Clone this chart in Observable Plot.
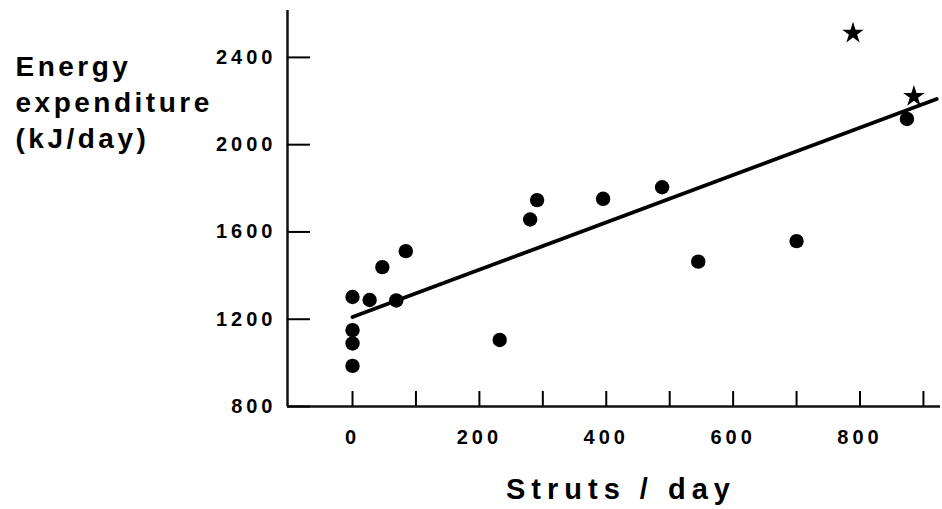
<!DOCTYPE html>
<html>
<head>
<meta charset="utf-8">
<script src="https://cdn.jsdelivr.net/npm/d3@7"></script>
<script src="https://cdn.jsdelivr.net/npm/@observablehq/plot@0.6"></script>
<style>
  html, body { margin: 0; padding: 0; background: #fff; }
  svg { font-family: "Liberation Sans", Arial, sans-serif; }
  g[aria-label="y-axis tick label"] text,
  g[aria-label="x-axis tick label"] text { letter-spacing: 4px; }
  g[aria-description="y-title"] text { letter-spacing: 3.5px; }
  g[aria-description="x-title"] text { letter-spacing: 6px; }
</style>
</head>
<body>
<div id="chart"></div>
<script>
// Circles (Struts/day vs energy expenditure kJ/day)
const circleX = [0, 0, 0, 0, 27, 47, 69, 84, 232, 280, 291, 395, 488, 545, 700, 874];
const circleY = [1302, 1150, 1089, 986, 1288, 1439, 1286, 1512, 1105, 1657, 1746, 1752, 1805, 1464, 1558, 2118];
// Stars
const starX = [789, 885];
const starY = [2511, 2221];
// Regression line endpoints
const lineX = [0, 921];
const lineY = [1210, 2209];
// Ticks
const xTicks = [0, 100, 200, 300, 400, 500, 600, 700, 800, 900];
const xLabels = [0, 200, 400, 600, 800];
const yTicks = [800, 1200, 1600, 2000, 2400];
const yTitle = "Energy\nexpenditure\n(kJ/day)";
const xTitle = "Struts / day";

const circles = circleX.map((x, i) => ({x, y: circleY[i]}));
const stars = starX.map((x, i) => ({x, y: starY[i]}));
const line = lineX.map((x, i) => ({x, y: lineY[i]}));

const chart = Plot.plot({
  width: 942,
  height: 509,
  marginLeft: 287,
  marginRight: 2,
  marginTop: 10,
  marginBottom: 103,
  x: {domain: [-102.5, 926.9]},
  y: {domain: [800, 2615]},
  style: {background: "#fff", color: "#000"},
  marks: [
    Plot.ruleX([-102.5], {stroke: "#111", strokeWidth: 2.5}),
    Plot.ruleY([800], {stroke: "#111", strokeWidth: 2.5}),
    Plot.axisY({ticks: yTicks, tickSize: -23, tickFormat: () => "", strokeWidth: 2, label: null}),
    Plot.axisY({ticks: yTicks, tickSize: 0, tickPadding: 11, fontSize: 20, fontWeight: "bold", tickFormat: d => String(d), label: null}),
    Plot.axisX({ticks: xTicks, tickSize: -15, tickFormat: () => "", strokeWidth: 2, label: null}),
    Plot.axisX({ticks: xLabels, tickSize: 0, tickPadding: 23, fontSize: 20, fontWeight: "bold", tickFormat: d => String(d), label: null}),
    Plot.line(line, {x: "x", y: "y", stroke: "#000", strokeWidth: 3.8}),
    Plot.dot(circles, {x: "x", y: "y", r: 7.2, fill: "#000", stroke: "none"}),
    Plot.dot(stars, {x: "x", y: "y", r: 6.8, symbol: "star", fill: "#000", stroke: "none"}),
    Plot.text([yTitle], {frameAnchor: "top-left", dx: -272, dy: 40, textAnchor: "start", lineAnchor: "top", lineHeight: 1.29, fontSize: 28, fontWeight: "bold", fill: "#000", ariaDescription: "y-title"}),
    Plot.text([xTitle], {frameAnchor: "bottom", dx: 7, dy: 83, textAnchor: "middle", lineAnchor: "middle", fontSize: 29, fontWeight: "bold", fill: "#000", ariaDescription: "x-title"})
  ]
});
document.getElementById("chart").appendChild(chart);
</script>
</body>
</html>
